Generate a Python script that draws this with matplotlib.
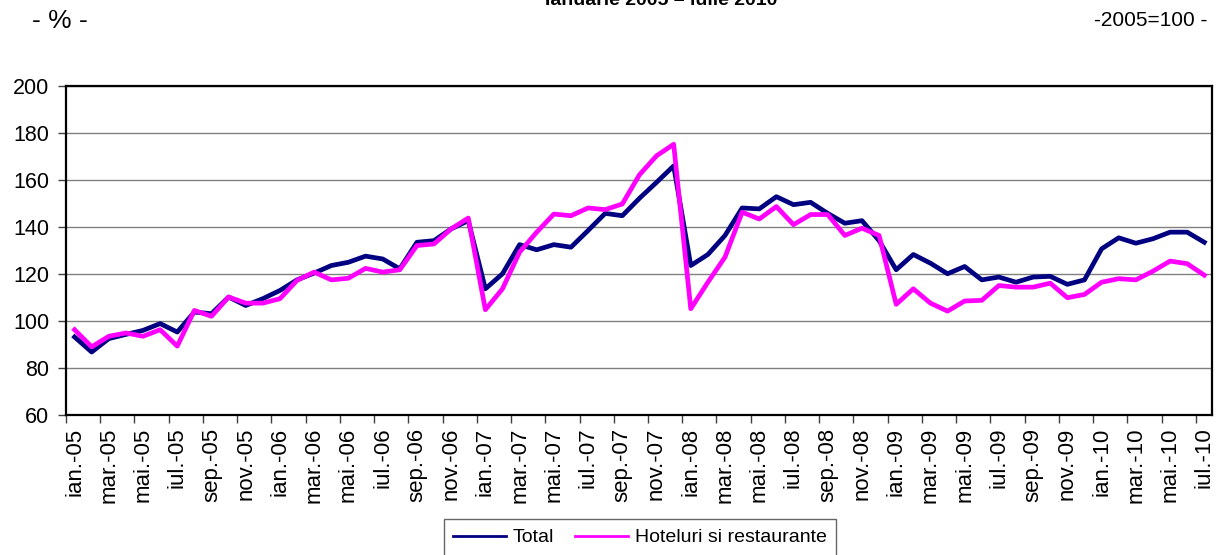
import matplotlib
matplotlib.use("Agg")
import matplotlib.pyplot as plt

plt.rcParams["font.family"] = ["Liberation Sans", "DejaVu Sans"]

# Data (indices 2005=100), monthly ian.-05 .. iul.-10
months = ["ian.", "feb.", "mar.", "apr.", "mai.", "iun.",
          "iul.", "aug.", "sep.", "oct.", "nov.", "dec."]
years = ["05", "06", "07", "08", "09", "10"]
labels = [f"{m}-{y}" for y in years for m in months][:67]

total = [93.2, 86.8, 92.5, 94.3, 96.0, 98.9, 95.3, 103.8, 103.1, 110.2,
         106.6, 109.5, 113.0, 117.5, 120.4, 123.6, 125.0, 127.6, 126.4, 122.2,
         133.5, 134.2, 139.2, 142.7, 113.7, 120.1, 132.5, 130.3, 132.5, 131.4,
         138.5, 145.8, 144.8, 152.2, 159.0, 166.0, 123.6, 128.3, 136.4, 148.1,
         147.7, 152.9, 149.5, 150.5, 145.8, 141.6, 142.7, 134.2, 121.8, 128.3,
         124.6, 120.1, 123.2, 117.5, 118.7, 116.5, 118.7, 119.0, 115.6, 117.5,
         130.7, 135.4, 133.1, 135.0, 137.8, 137.8, 133.5]
hotels = [96.3, 89.0, 93.5, 94.9, 93.5, 96.3, 89.3, 104.5, 102.0, 110.2,
          107.6, 107.6, 109.5, 117.3, 120.8, 117.5, 118.2, 122.4, 120.8, 121.8,
          132.1, 132.8, 139.2, 143.8, 104.8, 113.7, 129.3, 137.8, 145.5, 144.8,
          148.1, 147.4, 149.8, 162.2, 170.3, 175.2, 105.2, 116.5, 127.2, 146.3,
          143.4, 148.7, 141.0, 145.3, 145.3, 136.4, 139.5, 136.4, 107.1, 113.7,
          107.6, 104.2, 108.5, 108.8, 115.1, 114.4, 114.4, 116.1, 109.9, 111.3,
          116.5, 118.0, 117.5, 121.2, 125.5, 124.4, 119.5]

x = list(range(len(total)))

fig = plt.figure(figsize=(12.17, 5.55), dpi=100)
ax = fig.add_axes([66 / 1217, 1 - 415 / 555, (1212 - 66) / 1217, (415 - 86) / 555])

ax.plot(x, total, color="#000080", lw=3.4, label="Total", solid_joinstyle="round")
ax.plot(x, hotels, color="#FF00FF", lw=3.4, label="Hoteluri si restaurante",
        solid_joinstyle="round")

ax.set_ylim(60, 200)
ax.set_yticks(range(60, 201, 20))
ax.set_xlim(-0.45, len(x) - 0.55)
ax.grid(axis="y", color="#808080", lw=1)
ax.set_axisbelow(True)

ax.set_xticks(x[::2])
ax.set_xticklabels(labels[::2], rotation=90, fontsize=16)
ax.set_xticks([i - 0.5 for i in x[::2]], minor=True)
ax.tick_params(axis="x", which="major", length=0, pad=9)
ax.tick_params(axis="x", which="minor", length=6, width=1, color="#404040", direction="out")
ax.tick_params(axis="y", length=6, width=1, color="#404040", labelsize=15.5, pad=6)

for s in ax.spines.values():
    s.set_linewidth(1.6)
    s.set_color("black")

fig.text(32 / 1217, 1 - 21 / 555, "- % -", fontsize=19, va="center", ha="left")
fig.text(1207 / 1217, 1 - 21 / 555, "-2005=100 -", fontsize=15, va="center", ha="right")
fig.text(661 / 1217, 1 - 5 / 555, "Ianuarie 2005 – iulie 2010", fontsize=14,
         fontweight="bold", ha="center", va="baseline")

leg = fig.legend(loc="upper center", bbox_to_anchor=(640 / 1217, 1 - 519 / 555),
                 ncol=2, fontsize=14, frameon=True, fancybox=False,
                 edgecolor="#404040", handlelength=2.7, handletextpad=0.35,
                 columnspacing=1.1, borderpad=0.5, borderaxespad=0)
leg.get_frame().set_linewidth(1)
for ln in leg.get_lines():
    ln.set_linewidth(2)

fig.savefig("out.png", dpi=100)
